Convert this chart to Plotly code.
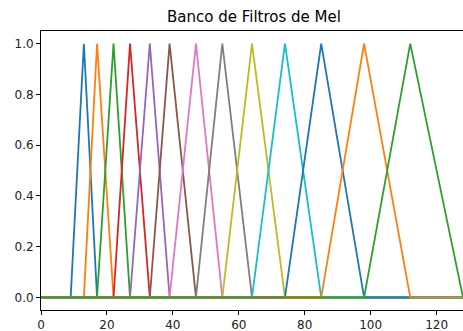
import plotly.graph_objects as go

# FFT-bin positions of the mel points
bin_points = [9, 13, 17, 22, 27, 33, 39, 47, 55, 64, 74, 85, 98, 112, 128]
n_bins_max = 128
filter_shape = [0, 0, 1, 0, 0]  # value at [start, left, center, right, end]
colors = ["#1f77b4", "#ff7f0e", "#2ca02c", "#d62728", "#9467bd",
          "#8c564b", "#e377c2", "#7f7f7f", "#bcbd22", "#17becf"]
x_ticks = [0, 20, 40, 60, 80, 100, 120]
y_ticks = [0.0, 0.2, 0.4, 0.6, 0.8, 1.0]
title = "Banco de Filtros de Mel"

fig = go.Figure()
for i in range(len(bin_points) - 2):
    xs = [0, bin_points[i], bin_points[i + 1], bin_points[i + 2], n_bins_max]
    fig.add_trace(go.Scatter(
        x=xs, y=filter_shape, mode="lines",
        line=dict(color=colors[i % len(colors)], width=1.8),
        showlegend=False, hoverinfo="skip"))

axis_common = dict(showline=True, mirror=True, linecolor="black", linewidth=1,
                   ticks="outside", ticklen=4, tickcolor="black", tickwidth=1,
                   showgrid=False, zeroline=False, automargin=False,
                   tickfont=dict(family="DejaVu Sans", size=12, color="#222222"))

fig.update_layout(
    width=463, height=331,
    margin=dict(l=41, r=0, t=31, b=21),
    paper_bgcolor="white", plot_bgcolor="white",
    title=dict(text=title, x=254 / 463, xanchor="center",
               y=1 - 17 / 331, yanchor="middle",
               font=dict(family="DejaVu Sans", size=15, color="black")),
    xaxis=dict(range=[0, 128], tickvals=x_ticks, **axis_common),
    yaxis=dict(range=[-0.05, 1.05], tickvals=y_ticks, tickformat=".1f", **axis_common),
)

fig.write_html("out.html",
               config={"displayModeBar": False, "staticPlot": True},
               post_script="document.body.style.margin='0';document.body.style.overflow='hidden';")
